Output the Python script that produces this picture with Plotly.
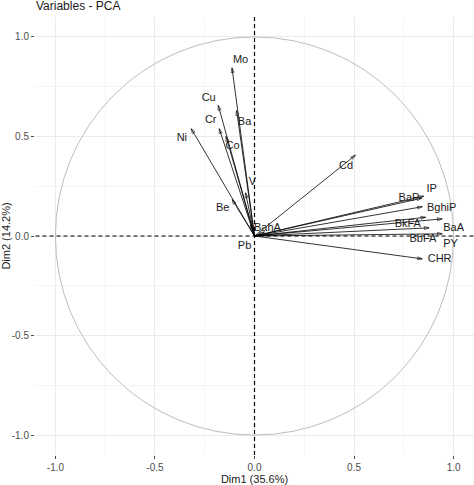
import plotly.graph_objects as go

# PCA variable loadings (Dim1, Dim2)
variables = ["Mo", "Cu", "Ba", "Cr", "Co", "Ni", "V", "Be", "Pb", "BahA",
             "Cd", "IP", "BaP", "BghiP", "BbFA", "BaA", "BkFA", "PY", "CHR"]
dim1 = [-0.113, -0.182, -0.090, -0.177, -0.143, -0.318, -0.045, -0.112, -0.020, 0.050,
        0.507, 0.850, 0.840, 0.843, 0.860, 0.943, 0.877, 0.943, 0.843]
dim2 = [0.845, 0.656, 0.630, 0.539, 0.500, 0.539, 0.217, 0.183, 0.055, 0.020,
        0.406, 0.200, 0.190, 0.147, 0.094, 0.086, 0.041, 0.011, -0.115]

# where the (repelled) labels sit
label_x = [-0.07, -0.23, -0.05, -0.22, -0.11, -0.365, -0.01, -0.16, -0.05, 0.065,
           0.46, 0.89, 0.776, 0.94, 0.846, 1.0, 0.77, 0.985, 0.93]
label_y = [0.885, 0.69, 0.57, 0.58, 0.45, 0.49, 0.27, 0.14, -0.05, 0.04,
           0.35, 0.237, 0.192, 0.137, -0.018, 0.04, 0.058, -0.04, -0.118]

ticks = [-1.0, -0.5, 0.0, 0.5, 1.0]
tick_text = ["-1.0", "-0.5", "0.0", "0.5", "1.0"]

fig = go.Figure()

# fleches des variables
for name, x, y in zip(variables, dim1, dim2):
    fig.add_trace(go.Scatter(
        x=[0, x], y=[0, y], mode="lines+markers",
        line=dict(color="black", width=0.8),
        marker=dict(symbol="arrow-open", size=[0, 5], angleref="previous",
                    color="black", line=dict(color="black", width=0.8)),
        hoverinfo="skip", showlegend=False, name=name))

# etiquettes
fig.add_trace(go.Scatter(
    x=label_x, y=label_y, mode="text", text=variables,
    textfont=dict(family="Liberation Sans, Arial", size=11, color="#1a1a1a"),
    hoverinfo="skip", showlegend=False))

# cercle de correlation + axes pointilles
fig.add_shape(type="circle", xref="x", yref="y", x0=-1, y0=-1, x1=1, y1=1,
              line=dict(color="#bdbdbd", width=1), layer="between")
fig.add_shape(type="line", xref="x", yref="y", x0=-1.1, x1=1.1, y0=0, y1=0,
              line=dict(color="black", width=1.2, dash="4px,3px"), layer="between")
fig.add_shape(type="line", xref="x", yref="y", x0=0, x1=0, y0=-1.1, y1=1.1,
              line=dict(color="black", width=1.2, dash="4px,3px"), layer="between")

axis_style = dict(
    range=[-1.1, 1.1], tickvals=ticks, ticktext=tick_text,
    showgrid=True, gridcolor="#ebebeb", gridwidth=1,
    minor=dict(showgrid=True, gridcolor="#f4f4f4", gridwidth=0.8,
               tickvals=[-0.75, -0.25, 0.25, 0.75]),
    zeroline=False, showline=False,
    ticks="outside", ticklen=3, tickcolor="#4d4d4d", tickwidth=1,
    tickfont=dict(family="Liberation Sans, Arial", size=10, color="#4d4d4d"),
    automargin=False,
)

fig.update_layout(
    width=474, height=485,
    margin=dict(l=35, r=0, t=17, b=30),
    paper_bgcolor="white", plot_bgcolor="white",
    font=dict(family="Liberation Sans, Arial", color="#1a1a1a"),
    title=dict(text="Variables - PCA", x=36 / 474, xanchor="left",
               y=1 - 5.5 / 485, yanchor="middle", font=dict(size=12, color="#1a1a1a")),
    xaxis=dict(axis_style, title=dict(text="Dim1 (35.6%)", standoff=2,
                                      font=dict(size=11))),
    yaxis=dict(axis_style, scaleanchor="x", scaleratio=1,
               title=dict(text="Dim2 (14.2%)", standoff=2, font=dict(size=11))),
)

# la page html a une marge de 8px par defaut
fig.write_html("out.html", config={"displayModeBar": False},
               post_script="document.body.style.margin='0';")
